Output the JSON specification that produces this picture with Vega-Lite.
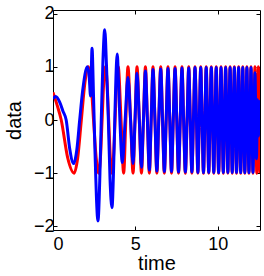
{
"$schema": "https://vega.github.io/schema/vega-lite/v6.json",
"width": 207, "height": 220,
"autosize": "none",
"padding": {"left": 53, "top": 10, "right": 4, "bottom": 46},
"background": "white",
"config": {
 "view": {"stroke": "black", "strokeWidth": 1},
 "font": "Liberation Sans",
 "axis": {"grid": false, "domain": false, "tickColor": "black", "tickSize": -4, "tickWidth": 1,
   "labelFont": "Liberation Sans", "labelFontSize": 18, "labelColor": "black",
   "titleFont": "Liberation Sans", "titleFontSize": 20, "titleFontWeight": "normal", "titleColor": "black"}
},
"resolve": {"scale": {"x": "independent", "y": "independent"}, "axis": {"x": "independent", "y": "independent"}},
"datasets": {
 "red": [
  {"t":0.00,"v":0.52},{"t":0.25,"v":0.28},{"t":0.50,"v":0.00},{"t":0.89,"v":-0.71},{"t":1.28,"v":-1.00},
  {"t":1.50,"v":-0.71},{"t":1.72,"v":0.00},{"t":1.94,"v":0.71},{"t":2.15,"v":1.00},{"t":2.31,"v":0.71},
  {"t":2.46,"v":0.00},{"t":2.62,"v":-0.71},{"t":2.77,"v":-1.00},{"t":2.88,"v":-0.71},{"t":2.98,"v":0.00},
  {"t":3.08,"v":0.71},{"t":3.18,"v":1.00},{"t":3.28,"v":0.71},{"t":3.38,"v":0.00},{"t":3.48,"v":-0.71},
  {"t":3.57,"v":-1.00},{"t":3.67,"v":-0.71},{"t":3.77,"v":0.00},{"t":3.86,"v":0.71},{"t":3.96,"v":1.00},
  {"t":4.13,"v":0.00},{"t":4.29,"v":-1.00},{"t":4.42,"v":0.00},{"t":4.55,"v":1.00},{"t":4.71,"v":0.00},
  {"t":4.86,"v":-1.00},{"t":4.98,"v":0.00},{"t":5.10,"v":1.00},{"t":5.24,"v":0.00},{"t":5.37,"v":-1.00},
  {"t":5.49,"v":0.00},{"t":5.61,"v":1.00},{"t":5.73,"v":0.00},{"t":5.85,"v":-1.00},{"t":5.96,"v":0.00},
  {"t":6.07,"v":1.00},{"t":6.19,"v":0.00},{"t":6.305,"v":-1.00},{"t":6.42,"v":0.00},{"t":6.54,"v":1.00},
  {"t":6.65,"v":0.00},{"t":6.76,"v":-1.00},{"t":6.87,"v":0.00},{"t":6.98,"v":1.00},{"t":7.09,"v":0.00},
  {"t":7.195,"v":-1.00},{"t":7.30,"v":0.00},{"t":7.41,"v":1.00},{"t":7.515,"v":0.00},{"t":7.62,"v":-1.00},
  {"t":7.725,"v":0.00},{"t":7.83,"v":1.00},{"t":7.93,"v":0.00},{"t":8.035,"v":-1.00},{"t":8.14,"v":0.00},
  {"t":8.24,"v":1.00},{"t":8.335,"v":0.00},{"t":8.43,"v":-1.00},{"t":8.525,"v":0.00},{"t":8.62,"v":1.00},
  {"t":8.71,"v":0.00},{"t":8.795,"v":-1.00},{"t":8.88,"v":0.00},{"t":8.97,"v":1.00},{"t":9.05,"v":0.00},
  {"t":9.135,"v":-1.00},{"t":9.22,"v":0.00},{"t":9.30,"v":1.00},{"t":9.38,"v":0.00},{"t":9.455,"v":-1.00},
  {"t":9.53,"v":0.00},{"t":9.61,"v":1.00},{"t":9.685,"v":0.00},{"t":9.76,"v":-1.00},{"t":9.835,"v":0.00},
  {"t":9.91,"v":1.00},{"t":9.98,"v":0.00},{"t":10.055,"v":-1.00},{"t":10.13,"v":0.00},{"t":10.20,"v":1.00},
  {"t":10.27,"v":0.00},{"t":10.34,"v":-1.00},{"t":10.41,"v":0.00},{"t":10.48,"v":1.00},{"t":10.55,"v":0.00},
  {"t":10.615,"v":-1.00},{"t":10.68,"v":0.00},{"t":10.75,"v":1.00},{"t":10.815,"v":0.00},{"t":10.88,"v":-1.00},
  {"t":10.945,"v":0.00},{"t":11.01,"v":1.00},{"t":11.075,"v":0.00},{"t":11.14,"v":-1.00},{"t":11.205,"v":0.00},
  {"t":11.27,"v":1.00},{"t":11.33,"v":0.00},{"t":11.395,"v":-1.00},{"t":11.46,"v":0.00},{"t":11.52,"v":1.00},
  {"t":11.58,"v":0.00},{"t":11.645,"v":-1.00},{"t":11.71,"v":0.00},{"t":11.77,"v":1.00},{"t":11.83,"v":0.00},
  {"t":11.895,"v":-1.00},{"t":11.96,"v":0.00},{"t":12.02,"v":1.00},{"t":12.08,"v":0.00},{"t":12.14,"v":-1.00},
  {"t":12.20,"v":0.00},{"t":12.26,"v":1.00},{"t":12.315,"v":0.00},{"t":12.37,"v":-1.00},{"t":12.42,"v":0.00},
  {"t":12.47,"v":1.00},{"t":12.52,"v":0.00},{"t":12.566,"v":-1.00}
 ],
 "blue": [
  {"t":0.00,"v":0.40},{"t":0.17,"v":0.44},{"t":0.40,"v":0.34},{"t":0.60,"v":0.17},{"t":0.80,"v":0.00},
  {"t":1.02,"v":-0.55},{"t":1.25,"v":-0.82},{"t":1.45,"v":-0.55},{"t":1.62,"v":0.00},{"t":1.80,"v":0.55},
  {"t":2.09,"v":1.00},{"t":2.20,"v":0.80},{"t":2.28,"v":0.45},{"t":2.37,"v":1.35},{"t":2.46,"v":0.45},
  {"t":2.55,"v":-0.60},{"t":2.73,"v":-1.90},{"t":2.85,"v":-1.00},{"t":2.93,"v":0.00},{"t":3.03,"v":1.10},
  {"t":3.14,"v":1.70},{"t":3.25,"v":1.00},{"t":3.36,"v":0.00},{"t":3.46,"v":-1.10},{"t":3.58,"v":-1.65},
  {"t":3.68,"v":-0.90},{"t":3.75,"v":0.00},{"t":3.82,"v":0.80},{"t":3.90,"v":1.24},{"t":3.98,"v":0.70},
  {"t":4.06,"v":0.00},{"t":4.21,"v":-0.80},{"t":4.38,"v":0.00},{"t":4.55,"v":0.80},{"t":4.71,"v":0.00},
  {"t":4.86,"v":-0.82},{"t":4.98,"v":0.00},{"t":5.10,"v":0.88},{"t":5.24,"v":0.00},{"t":5.37,"v":-0.89},
  {"t":5.49,"v":0.00},{"t":5.61,"v":0.92},{"t":5.73,"v":0.00},{"t":5.85,"v":-0.94},{"t":5.96,"v":0.00},
  {"t":6.07,"v":0.95},{"t":6.19,"v":0.00},{"t":6.305,"v":-0.96},{"t":6.42,"v":0.00},{"t":6.54,"v":0.96},
  {"t":6.65,"v":0.00},{"t":6.76,"v":-0.97},{"t":6.87,"v":0.00},{"t":6.98,"v":0.97},{"t":7.09,"v":0.00},
  {"t":7.195,"v":-0.97},{"t":7.30,"v":0.00},{"t":7.41,"v":0.97},{"t":7.515,"v":0.00},{"t":7.62,"v":-0.98},
  {"t":7.725,"v":0.00},{"t":7.83,"v":0.98},{"t":7.93,"v":0.00},{"t":8.035,"v":-0.98},{"t":8.14,"v":0.00},
  {"t":8.24,"v":0.98},{"t":8.335,"v":0.00},{"t":8.43,"v":-0.98},{"t":8.525,"v":0.00},{"t":8.62,"v":0.99},
  {"t":8.71,"v":0.00},{"t":8.795,"v":-0.99},{"t":8.88,"v":0.00},{"t":8.97,"v":0.99},{"t":9.05,"v":0.00},
  {"t":9.135,"v":-0.99},{"t":9.22,"v":0.00},{"t":9.30,"v":0.99},{"t":9.38,"v":0.00},{"t":9.455,"v":-0.99},
  {"t":9.53,"v":0.00},{"t":9.61,"v":0.99},{"t":9.685,"v":0.00},{"t":9.76,"v":-0.99},{"t":9.835,"v":0.00},
  {"t":9.91,"v":0.99},{"t":9.98,"v":0.00},{"t":10.055,"v":-0.99},{"t":10.13,"v":0.00},{"t":10.20,"v":0.99},
  {"t":10.27,"v":0.00},{"t":10.34,"v":-0.99},{"t":10.41,"v":0.00},{"t":10.48,"v":0.99},{"t":10.55,"v":0.00},
  {"t":10.615,"v":-0.99},{"t":10.68,"v":0.00},{"t":10.75,"v":0.99},{"t":10.815,"v":0.00},{"t":10.88,"v":-0.99},
  {"t":10.945,"v":0.00},{"t":11.01,"v":0.99},{"t":11.075,"v":0.00},{"t":11.14,"v":-0.99},{"t":11.205,"v":0.00},
  {"t":11.27,"v":0.99},{"t":11.33,"v":0.00},{"t":11.395,"v":-0.99},{"t":11.46,"v":0.00},{"t":11.52,"v":0.99},
  {"t":11.58,"v":0.00},{"t":11.645,"v":-0.99},{"t":11.71,"v":0.00},{"t":11.77,"v":0.99},{"t":11.83,"v":0.00},
  {"t":11.895,"v":-0.99},{"t":11.96,"v":0.00},{"t":12.02,"v":0.99},{"t":12.08,"v":0.00},{"t":12.14,"v":-0.99},
  {"t":12.20,"v":0.00},{"t":12.26,"v":0.89},{"t":12.35,"v":-0.73},{"t":12.42,"v":0.38},{"t":12.48,"v":-0.30},
  {"t":12.53,"v":0.35},{"t":12.566,"v":0.00}
 ]
},
"layer": [
 {"data": {"name": "red"},
  "mark": {"type": "line", "color": "#ff0000", "strokeWidth": 3, "interpolate": "monotone", "clip": true},
  "encoding": {
   "x": {"field": "t", "type": "quantitative", "scale": {"domain": [0, 12.566], "nice": false, "zero": false},
         "axis": {"values": [0, 5, 10], "title": "time", "labelPadding": 9, "titlePadding": 0}},
   "y": {"field": "v", "type": "quantitative", "scale": {"domain": [-2.07, 2.07], "nice": false},
         "axis": {"values": [-2, -1, 0, 1, 2], "title": "data", "labelPadding": 3, "titlePadding": 9}}
  }},
 {"data": {"name": "blue"},
  "mark": {"type": "line", "color": "#0000ff", "strokeWidth": 3, "interpolate": "monotone", "clip": true},
  "encoding": {
   "x": {"field": "t", "type": "quantitative", "scale": {"domain": [0, 12.566], "nice": false, "zero": false},
         "axis": {"orient": "top", "values": [0, 5, 10], "labels": false, "title": null}},
   "y": {"field": "v", "type": "quantitative", "scale": {"domain": [-2.07, 2.07], "nice": false},
         "axis": {"orient": "right", "values": [-2, -1, 0, 1, 2], "labels": false, "title": null}}
  }}
]
}
